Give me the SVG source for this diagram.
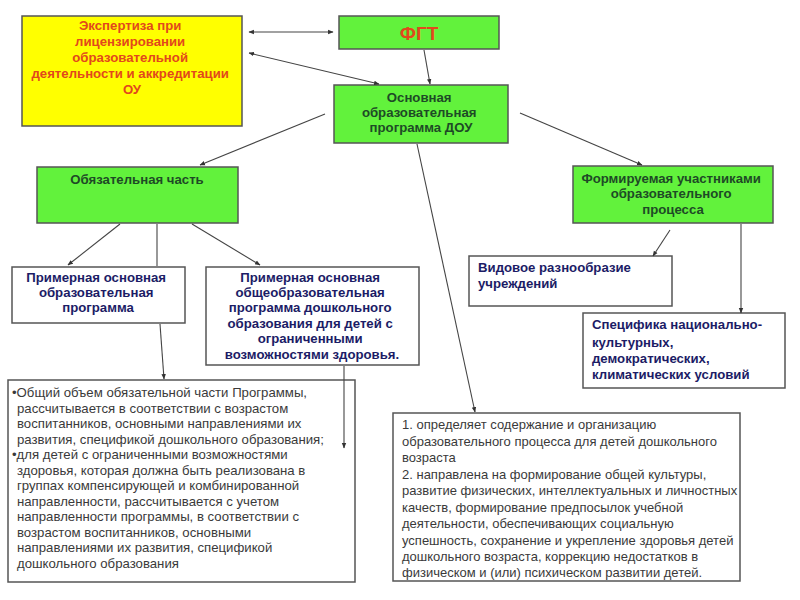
<svg xmlns="http://www.w3.org/2000/svg" width="800" height="600" viewBox="0 0 800 600">
<defs>
<marker id="ah" viewBox="0 0 10 10" refX="9" refY="5" markerWidth="5" markerHeight="5" orient="auto-start-reverse">
<path d="M0,1 L10,5 L0,9 z" fill="#333"/>
</marker>
<style>
.box{stroke:#555;stroke-width:1.5}
.g{fill:#62f23c}
.y{fill:#ffff00}
.w{fill:#ffffff}
.t{font-family:"Liberation Sans",Arial,sans-serif;font-weight:bold;font-size:13.2px}
.or{fill:#e2481c}
.dg{fill:#1e4a26}
.nv{fill:#1c1c66}
.body{font-family:"Liberation Sans",Arial,sans-serif;font-size:13.2px;fill:#3a3a3a}
.c{stroke:#444;stroke-width:1.1;fill:none}
</style>
</defs>
<rect width="800" height="600" fill="#ffffff"/>
<g id="expertiza">
<rect class="box y" x="22" y="16" width="220" height="110"/>
<text class="t or" text-anchor="middle">
<tspan x="132" y="30">Экспертиза при</tspan>
<tspan x="132" y="46">лицензировании</tspan>
<tspan x="132" y="62">образовательной</tspan>
<tspan x="132" y="78">деятельности и аккредитации</tspan>
<tspan x="132" y="94">ОУ</tspan>
</text>
</g>
<g id="fgt">
<rect class="box g" x="339" y="16" width="160" height="33"/>
<text class="t or" x="419" y="40" text-anchor="middle" style="font-size:19px">ФГТ</text>
</g>
<g id="oop">
<rect class="box g" x="334" y="85" width="174" height="58"/>
<text class="t dg" text-anchor="middle">
<tspan x="421" y="102">Основная</tspan>
<tspan x="421" y="117">образовательная</tspan>
<tspan x="421" y="132">программа ДОУ</tspan>
</text>
</g>
<g id="obyaz">
<rect class="box g" x="37" y="167" width="201" height="56"/>
<text class="t dg" x="137" y="184" text-anchor="middle">Обязательная часть</text>
</g>
<g id="formir">
<rect class="box g" x="573" y="166" width="200" height="57"/>
<text class="t dg" text-anchor="middle">
<tspan x="673" y="183">Формируемая участниками</tspan>
<tspan x="673" y="198">образовательного</tspan>
<tspan x="673" y="214">процесса</tspan>
</text>
</g>
<g id="primer">
<rect class="box w" x="12" y="267" width="173" height="56"/>
<text class="t nv" text-anchor="middle">
<tspan x="98" y="282">Примерная основная</tspan>
<tspan x="98" y="297">образовательная</tspan>
<tspan x="98" y="312">программа</tspan>
</text>
</g>
<g id="primer2">
<rect class="box w" x="206" y="267" width="213" height="98"/>
<text class="t nv" text-anchor="middle">
<tspan x="312" y="282">Примерная  основная</tspan>
<tspan x="312" y="297">общеобразовательная</tspan>
<tspan x="312" y="312">программа дошкольного</tspan>
<tspan x="312" y="328">образования для детей с</tspan>
<tspan x="312" y="343">ограниченными</tspan>
<tspan x="312" y="359">возможностями здоровья.</tspan>
</text>
</g>
<g id="vidovoe">
<rect class="box w" x="469" y="256" width="203" height="50"/>
<text class="t nv">
<tspan x="478" y="272">Видовое разнообразие</tspan>
<tspan x="478" y="288">учреждений</tspan>
</text>
</g>
<g id="specifika">
<rect class="box w" x="583" y="313" width="202" height="75"/>
<text class="t nv">
<tspan x="592" y="329">Специфика национально-</tspan>
<tspan x="592" y="347">культурных,</tspan>
<tspan x="592" y="363">демократических,</tspan>
<tspan x="592" y="379">климатических условий</tspan>
</text>
</g>
<g id="obyem">
<rect class="box w" x="8" y="380" width="347" height="202"/>
<text class="body">
<tspan x="12" y="397">•Общий объем обязательной части Программы,</tspan>
<tspan x="17" y="412.5">рассчитывается в соответствии с возрастом</tspan>
<tspan x="17" y="428">воспитанников, основными направлениями их</tspan>
<tspan x="17" y="443.5">развития, спецификой дошкольного образования;</tspan>
<tspan x="12" y="459">•для детей с ограниченными возможностями</tspan>
<tspan x="17" y="474.5">здоровья, которая должна быть реализована в</tspan>
<tspan x="17" y="490">группах компенсирующей и комбинированной</tspan>
<tspan x="17" y="505.5">направленности, рассчитывается с учетом</tspan>
<tspan x="17" y="521">направленности программы, в соответствии с</tspan>
<tspan x="17" y="536.5">возрастом воспитанников, основными</tspan>
<tspan x="17" y="552">направлениями их развития, спецификой</tspan>
<tspan x="17" y="567.5">дошкольного образования</tspan>
</text>
</g>
<g id="opredelyaet">
<rect class="box w" x="393" y="413" width="347" height="168"/>
<text class="body" style="font-size:13px">
<tspan x="402" y="429">1. определяет содержание и организацию</tspan>
<tspan x="402" y="445.5">образовательного процесса для детей дошкольного</tspan>
<tspan x="402" y="462">возраста</tspan>
<tspan x="402" y="478.5">2. направлена на формирование общей культуры,</tspan>
<tspan x="402" y="495">развитие физических, интеллектуальных и личностных</tspan>
<tspan x="402" y="511.5">качеств, формирование предпосылок учебной</tspan>
<tspan x="402" y="528">деятельности, обеспечивающих социальную</tspan>
<tspan x="402" y="544.5">успешность, сохранение и укрепление здоровья детей</tspan>
<tspan x="402" y="561">дошкольного возраста, коррекцию недостатков в</tspan>
<tspan x="402" y="577">физическом и (или) психическом развитии детей.</tspan>
</text>
</g>
<g id="connectors">
<line class="c" x1="249" y1="32" x2="333" y2="32" marker-start="url(#ah)" marker-end="url(#ah)"/>
<line class="c" x1="249" y1="53" x2="379" y2="84" marker-start="url(#ah)" marker-end="url(#ah)"/>
<line class="c" x1="424" y1="50" x2="430" y2="84" marker-end="url(#ah)"/>
<line class="c" x1="325" y1="114" x2="200" y2="165" marker-end="url(#ah)"/>
<line class="c" x1="520" y1="113" x2="642" y2="165" marker-end="url(#ah)"/>
<line class="c" x1="417" y1="144" x2="475" y2="412" marker-end="url(#ah)"/>
<line class="c" x1="120" y1="224" x2="68" y2="265" marker-end="url(#ah)"/>
<line class="c" x1="157" y1="224" x2="157" y2="266"/>
<line class="c" x1="192" y1="224" x2="260" y2="265" marker-end="url(#ah)"/>
<line class="c" x1="160" y1="324" x2="164" y2="379" marker-end="url(#ah)"/>
<line class="c" x1="344" y1="366" x2="344" y2="448" marker-end="url(#ah)"/>
<line class="c" x1="670" y1="230" x2="653" y2="256" marker-end="url(#ah)"/>
<line class="c" x1="741" y1="224" x2="741" y2="313" marker-end="url(#ah)"/>
</g>
</svg>
